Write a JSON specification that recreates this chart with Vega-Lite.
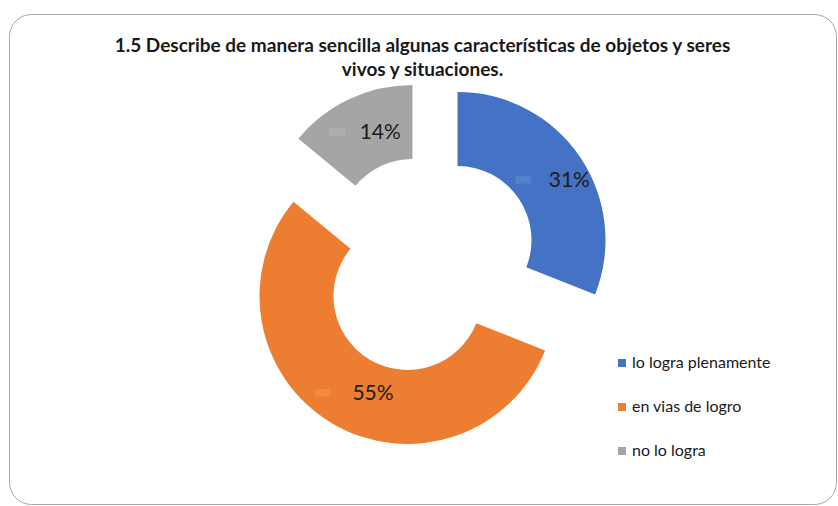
{
  "$schema": "https://vega.github.io/schema/vega-lite/v6.json",
  "width": 827,
  "height": 490,
  "autosize": "none",
  "padding": {"left": 9, "top": 14, "right": 2, "bottom": 2},
  "background": "white",
  "view": {"stroke": "#a6a6a6", "strokeWidth": 1, "cornerRadius": 22, "fill": "white"},
  "config": {
    "font": "Lato"
  },
  "title": {
    "text": ["1.5 Describe de manera sencilla algunas características de objetos y seres", "vivos y situaciones."],
    "fontSize": 19,
    "font": "Lato",
    "fontWeight": "bold",
    "color": "#1a1a1a",
    "anchor": "middle",
    "offset": -66,
    "lineHeight": 24
  },
  "data": {
    "values": [
      {"cat": "lo logra plenamente", "valor": 31, "orden": 1, "etiqueta": "31%"},
      {"cat": "en vias de logro", "valor": 55, "orden": 2, "etiqueta": "55%"},
      {"cat": "no lo logra", "valor": 14, "orden": 3, "etiqueta": "14%"}
    ]
  },
  "encoding": {
    "theta": {"field": "valor", "type": "quantitative", "stack": true},
    "order": {"field": "orden", "type": "quantitative"}
  },
  "layer": [
    {
      "mark": {"type": "arc", "outerRadius": 148, "innerRadius": 74, "xOffset": 35, "yOffset": -19},
      "encoding": {
        "color": {
          "field": "cat", "type": "nominal",
          "scale": {"domain": ["lo logra plenamente", "en vias de logro", "no lo logra"], "range": ["#4472C4", "#ED7D31", "#A5A5A5"]},
          "legend": {"orient": "none", "legendX": 605, "legendY": 341, "title": null, "symbolType": "square", "symbolSize": 64, "symbolOpacity": 1, "labelFontSize": 16, "labelFont": "Lato", "labelColor": "#1a1a1a", "rowPadding": 28, "padding": 0, "labelOffset": 2}
        },
        "opacity": {"condition": {"test": "datum.cat === 'lo logra plenamente'", "value": 1}, "value": 0}
      }
    },
    {
      "mark": {"type": "arc", "outerRadius": 148, "innerRadius": 74, "xOffset": -15, "yOffset": 37},
      "encoding": {
        "color": {"field": "cat", "type": "nominal"},
        "opacity": {"condition": {"test": "datum.cat === 'en vias de logro'", "value": 1}, "value": 0}
      }
    },
    {
      "mark": {"type": "arc", "outerRadius": 148, "innerRadius": 74, "xOffset": -10, "yOffset": -26},
      "encoding": {
        "color": {"field": "cat", "type": "nominal"},
        "opacity": {"condition": {"test": "datum.cat === 'no lo logra'", "value": 1}, "value": 0}
      }
    },
    {
      "mark": {"type": "text", "radius": 111, "xOffset": 35, "yOffset": -19, "dx": 20, "dy": 3, "fontSize": 21, "font": "Lato", "align": "center", "baseline": "middle"},
      "encoding": {
        "text": {"field": "etiqueta"},
        "detail": {"field": "cat"},
        "color": {"value": "#1c1c1c"},
        "opacity": {"condition": {"test": "datum.cat === 'lo logra plenamente'", "value": 1}, "value": 0}
      }
    },
    {
      "mark": {"type": "text", "radius": 111, "xOffset": -15, "yOffset": 37, "dx": 22, "dy": 2, "fontSize": 21, "font": "Lato", "align": "center", "baseline": "middle"},
      "encoding": {
        "text": {"field": "etiqueta"},
        "detail": {"field": "cat"},
        "color": {"value": "#1c1c1c"},
        "opacity": {"condition": {"test": "datum.cat === 'en vias de logro'", "value": 1}, "value": 0}
      }
    },
    {
      "mark": {"type": "text", "radius": 111, "xOffset": -10, "yOffset": -26, "dx": 15, "dy": 0, "fontSize": 21, "font": "Lato", "align": "center", "baseline": "middle"},
      "encoding": {
        "text": {"field": "etiqueta"},
        "detail": {"field": "cat"},
        "color": {"value": "#1c1c1c"},
        "opacity": {"condition": {"test": "datum.cat === 'no lo logra'", "value": 1}, "value": 0}
      }
    },
    {
      "mark": {"type": "text", "radius": 111, "xOffset": 35, "yOffset": -19, "dx": -26, "dy": 1, "fontSize": 20, "font": "DejaVu Sans", "align": "center", "baseline": "middle", "text": "▬"},
      "encoding": {
        "detail": {"field": "cat"},
        "color": {"value": "white"},
        "opacity": {"condition": {"test": "datum.cat === 'lo logra plenamente'", "value": 0.1}, "value": 0}
      }
    },
    {
      "mark": {"type": "text", "radius": 111, "xOffset": -15, "yOffset": 37, "dx": -28, "dy": 0, "fontSize": 20, "font": "DejaVu Sans", "align": "center", "baseline": "middle", "text": "▬"},
      "encoding": {
        "detail": {"field": "cat"},
        "color": {"value": "white"},
        "opacity": {"condition": {"test": "datum.cat === 'en vias de logro'", "value": 0.1}, "value": 0}
      }
    },
    {
      "mark": {"type": "text", "radius": 111, "xOffset": -10, "yOffset": -26, "dx": -28, "dy": -2, "fontSize": 20, "font": "DejaVu Sans", "align": "center", "baseline": "middle", "text": "▬"},
      "encoding": {
        "detail": {"field": "cat"},
        "color": {"value": "white"},
        "opacity": {"condition": {"test": "datum.cat === 'no lo logra'", "value": 0.1}, "value": 0}
      }
    }
  ]
}
